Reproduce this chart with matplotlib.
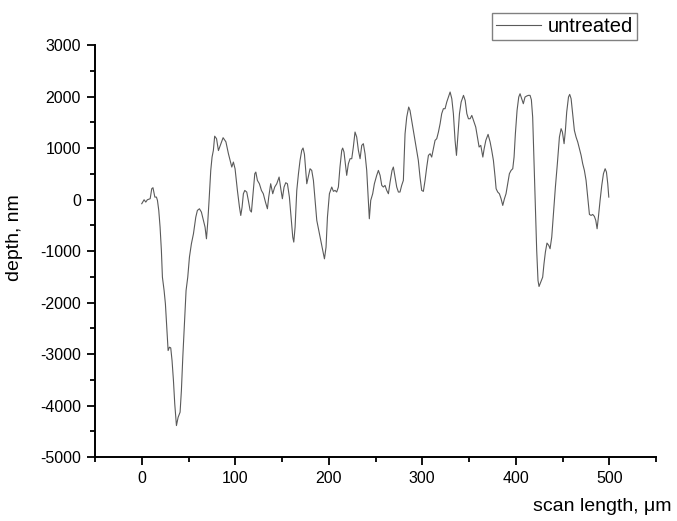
import matplotlib
matplotlib.use("Agg")
import matplotlib.pyplot as plt
from matplotlib.ticker import MultipleLocator

plt.rcParams['font.family'] = ['Liberation Sans', 'DejaVu Sans']
plt.rcParams['axes.unicode_minus'] = False

# scan position (um) and depth (nm)
scan_x = [0, 2.5, 4.3, 6, 9, 10.7, 12, 14, 15.7, 16.8, 18.2, 19.6, 21, 22.1, 23.9,
          25.3, 26.7, 28.2, 29.6, 31, 32.4, 33.9, 35.3, 37.1, 38.9, 41, 42.4, 43.9,
          45.6, 47.4, 49.2, 51, 53.1, 55.3, 57.8, 59.5, 61.7, 63.8, 65.9, 67.7, 69.2,
          70.6, 72, 73.8, 75.2, 76.6, 78, 80, 82, 84, 87, 90, 92.7, 94.5, 96.3, 98,
          99.8, 102.3, 104.5, 105.9, 107.3, 108.7, 110.2, 112.3, 114, 115.9, 117.3,
          119, 120.9, 122, 123.7, 125.8, 128, 130, 132.3, 134.4, 135.8, 137.9, 140.1,
          142.2, 144.4, 146.9, 148.7, 150.4, 152.2, 154, 155.8, 157.9, 159.7, 161.5,
          162.6, 164, 165.8, 167.6, 169.3, 171.1, 172.5, 174, 176.5, 180, 181.8,
          183.6, 187.2, 190, 193.6, 195.4, 197.1, 198.6, 200.7,
          203.2, 205, 206.7, 208.5, 210.3, 212, 213.9, 214.9, 216.3, 217.8, 219.2,
          221, 222.8, 224.6, 226.3, 228.1, 229.9, 231.7, 233.5, 235.3, 237, 238.8,
          240.6, 242.4, 243.4, 244.9, 247, 248.8, 251.3, 253.1, 254.9, 256.7, 258.4,
          260.2, 262, 263.8, 265.6, 267.7, 269.1, 270.9, 272.7, 274.5, 276.2, 278,
          279.8, 281.6, 283.4, 285.5, 286.9, 288.7, 290.5, 292.3, 294.1, 295.8,
          297.6, 299.4, 301.2, 303, 304.8, 306.6, 308.4, 310.1, 311.9, 313.7, 315.5,
          317.3, 319.1, 320.8, 322.6, 324.4, 326.2, 328, 329.8, 331.6, 333.3, 335.1,
          336.6, 338, 339.8, 341.6, 344.1, 345.9, 347.7, 349.4, 351.2, 353, 354.8,
          357.2, 359, 360.8, 362.6, 364.8, 366.2, 368, 370.4, 372.6, 374.3, 376.1,
          377.9, 379, 380.7, 382.5, 384.3, 386.1, 387.9, 389.6, 391.4, 393.2, 395,
          396.8, 398.2, 399.6, 401.4, 403.2, 404.6, 406.4, 408.1, 409.9, 411.7,
          413.5, 415.3, 416.7, 418.1, 419.5, 421, 422.4, 423.8, 424.9, 426.7, 428.8,
          430.2, 431.7, 433.4, 435.3, 436.7, 438.5, 440.3, 442.4, 444.5, 446.7,
          448.5, 449.9, 451.7, 453.1, 454.5, 456.4, 457.7, 459.2, 460.9, 462.7,
          464.5, 466.3, 468.1, 469.9, 471.6, 473.4, 475.2, 477, 478.8, 480.6, 482.3,
          484.1, 485.6, 487, 488.4, 490.2, 492, 493.8, 495.6, 497, 498.4, 499.5]
depth = [-82, -5, -50, -5, 15, 210, 229, 47, 47, -18, -212, -536, -990, -1508, -1767,
         -2026, -2480, -2933, -2868, -2881, -3127, -3516, -3970, -4390, -4229, -4130,
         -3709, -3061, -2414, -1767, -1508, -1119, -860, -665, -342, -212, -180, -244,
         -406, -536, -763, -439, -18, 565, 824, 954, 1230, 1180, 950, 1050, 1200, 1120,
         889, 760, 630, 727, 597, 176, -148, -310, -148, 112, 176, 144, -18, -212, -244,
         112, 501, 533, 371, 306, 176, 112, -50, -180, 47, 306, 112, 242, 306, 436, 209,
         15, 242, 326, 306, 47, -342, -730, -827, -536, 176, 501, 760, 954, 1000, 880,
         306, 597, 565, 371, -406, -665, -990, -1152, -925, -342, 112,
         242, 158, 177, 145, 242, 630, 954, 999, 922, 695, 469, 695, 792, 792, 1019,
         1310, 1213, 954, 792, 1051, 1084, 889, 565, -17, -374, -17, 112, 306, 469,
         565, 469, 274, 242, 274, 177, 112, 339, 565, 630, 436, 242, 145, 145, 274,
         371, 1276, 1600, 1795, 1730, 1536, 1342, 1148, 954, 760, 436, 177, 158, 371,
         630, 857, 889, 824, 986, 1148, 1181, 1310, 1472, 1666, 1763, 1763, 1892,
         1989, 2087, 1957, 1666, 1148, 857, 1213, 1666, 1892, 2022, 1924, 1666, 1568,
         1568, 1633, 1536, 1407, 1213, 1019, 1051, 824, 986, 1148, 1265, 1116, 954,
         760, 436, 210, 145, 112, 15, -115, 15, 112, 306, 501, 565, 598, 824, 1276,
         1730, 1989, 2054, 1957, 1860, 1989, 2009, 2022, 2022, 1937, 1600, 760, -211,
         -989, -1572, -1689, -1605, -1508, -1248, -1021, -846, -891, -956, -729, -276,
         242, 695, 1213, 1375, 1310, 1084, 1342, 1698, 1989, 2041, 1957, 1666, 1342,
         1213, 1116, 986, 857, 695, 565, 371, 47, -290, -309, -290, -328, -406, -568,
         -341, -17, 274, 501, 598, 533, 306, 47]

x_major = [0, 100, 200, 300, 400, 500]
y_major = [-5000, -4000, -3000, -2000, -1000, 0, 1000, 2000, 3000]

fig = plt.figure(figsize=(6.77, 5.21), dpi=100)
ax = fig.add_axes([95 / 677, 1 - 457 / 521, 561 / 677, 412 / 521])

ax.plot(scan_x, depth, color='#5a5a5a', linewidth=0.8, label='untreated')

ax.set_xlim(-50, 550)
ax.set_ylim(-5000, 3000)
ax.set_xticks(x_major)
ax.set_yticks(y_major)
ax.xaxis.set_minor_locator(MultipleLocator(50))
ax.yaxis.set_minor_locator(MultipleLocator(500))

for side in ['top', 'right']:
    ax.spines[side].set_visible(False)
for side in ['left', 'bottom']:
    ax.spines[side].set_linewidth(1.4)

ax.tick_params(which='major', direction='out', length=6, width=1.3,
               labelsize=11.5, pad=4)
ax.tick_params(which='minor', direction='out', length=3.5, width=1.3)

ax.set_ylabel('depth, nm', fontsize=14, va='center')
ax.yaxis.set_label_coords(-0.1435, 0.532)
ax.set_xlabel('scan length, μm', fontsize=14, ha='right', va='center')
ax.xaxis.set_label_coords(1.0285, -0.121)

leg = ax.legend(loc='upper right', bbox_to_anchor=(637 / 677, 1 - 13 / 521),
                bbox_transform=fig.transFigure, borderaxespad=0, fancybox=False,
                framealpha=1, edgecolor='#808080', fontsize=14.5,
                handlelength=2.2, handletextpad=0.35, borderpad=0.2)
leg.get_frame().set_linewidth(1.0)

fig.savefig('out.png', dpi=100)
